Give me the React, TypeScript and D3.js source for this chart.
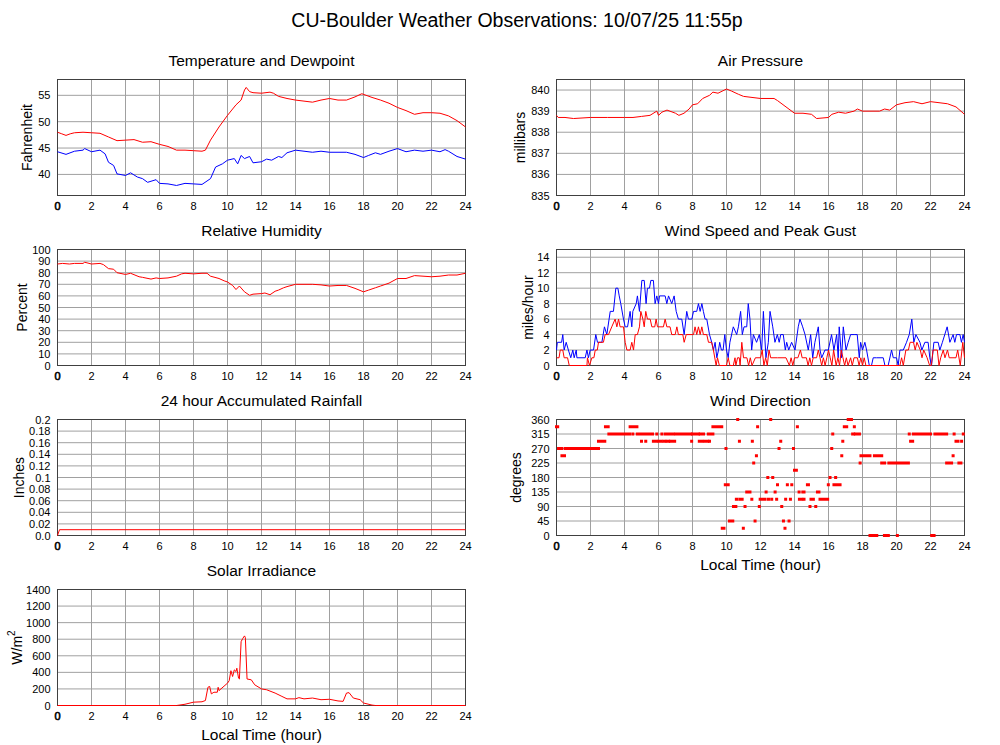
import React from "react";
import * as d3 from "d3";

type Pt = [number, number];
type Run = [number, number, number];

const HOUR_TICKS = [0, 2, 4, 6, 8, 10, 12, 14, 16, 18, 20, 22, 24];

const TEMP_TICKS = [40, 45, 50, 55];
const PRESSURE_TICKS = [835, 836, 837, 838, 839, 840];
const HUMIDITY_TICKS = [0, 10, 20, 30, 40, 50, 60, 70, 80, 90, 100];
const WIND_TICKS = [0, 2, 4, 6, 8, 10, 12, 14];
const RAIN_TICKS = [0, 0.02, 0.04, 0.06, 0.08, 0.1, 0.12, 0.14, 0.16, 0.18, 0.2];
const RAIN_LABELS = ["0.0", "0.02", "0.04", "0.06", "0.08", "0.1", "0.12", "0.14", "0.16", "0.18", "0.2"];
const DIR_TICKS = [0, 45, 90, 135, 180, 225, 270, 315, 360];
const SOLAR_TICKS = [0, 200, 400, 600, 800, 1000, 1200, 1400];

const temperature: Pt[] = [
  [0, 48.0], [0.25, 47.7], [0.5, 47.4], [0.75, 47.7], [1, 47.9], [1.5, 48.0], [2, 47.9], [2.5, 47.8],
  [3, 47.1], [3.5, 46.4], [4, 46.5], [4.5, 46.6], [5, 46.1], [5.5, 46.2], [6, 45.7], [6.5, 45.3],
  [7, 44.6], [7.5, 44.6], [8, 44.5], [8.5, 44.4], [8.7, 44.6], [9, 46.5], [9.5, 49.0], [10, 51.2],
  [10.5, 53.2], [10.8, 54.1], [11, 56.0], [11.1, 56.5], [11.3, 55.7], [11.5, 55.5], [12, 55.4],
  [12.5, 55.6], [12.7, 55.4], [13, 54.8], [13.5, 54.4], [14, 54.1], [14.5, 53.9], [15, 53.7],
  [15.5, 54.1], [16, 54.4], [16.5, 54.1], [17, 54.1], [17.5, 54.7], [17.9, 55.3], [18.5, 54.6],
  [19, 54.1], [19.5, 53.5], [20, 52.7], [20.5, 52.1], [21, 51.4], [21.5, 51.7], [22, 51.7],
  [22.5, 51.6], [23, 51.1], [23.5, 50.2], [24, 49.0],
];

const dewpoint: Pt[] = [
  [0, 44.3], [0.5, 43.8], [1, 44.4], [1.5, 44.6], [1.6, 44.9], [2, 44.3], [2.5, 44.6], [2.8, 43.9],
  [3, 42.3], [3.3, 41.7], [3.5, 40.1], [4, 39.8], [4.3, 40.3], [4.7, 39.5], [5, 39.2], [5.3, 38.5],
  [5.8, 39.0], [6, 38.3], [6.5, 38.2], [7, 37.9], [7.5, 38.3], [8, 38.2], [8.5, 38.1], [9, 39.2],
  [9.3, 41.4], [9.7, 42.0], [10, 42.7], [10.4, 43.0], [10.6, 42.0], [10.8, 43.6], [11, 43.0],
  [11.3, 43.4], [11.5, 42.2], [12, 42.4], [12.3, 42.9], [12.6, 42.7], [13, 43.4], [13.2, 43.2],
  [13.5, 44.1], [14, 44.6], [14.5, 44.4], [15, 44.2], [15.5, 44.4], [16, 44.2], [16.5, 44.2],
  [17, 44.2], [17.5, 43.8], [18, 43.2], [18.3, 43.6], [18.7, 44.1], [19, 43.8], [19.5, 44.4],
  [20, 44.9], [20.5, 44.3], [21, 44.6], [21.5, 44.4], [22, 44.6], [22.5, 44.3], [22.8, 44.7],
  [23, 44.4], [23.5, 43.4], [24, 42.9],
];

const pressure: Pt[] = [
  [0, 838.8], [0.1, 838.7], [0.5, 838.7], [1, 838.65], [2, 838.7], [3, 838.7], [4, 838.7],
  [4.5, 838.7], [5, 838.75], [5.5, 838.8], [5.9, 839.0], [6, 838.8], [6.2, 838.95], [6.5, 839.05],
  [7, 838.9], [7.2, 838.8], [7.5, 838.9], [7.8, 839.1], [8, 839.3], [8.3, 839.35], [8.6, 839.6],
  [9, 839.75], [9.2, 839.9], [9.5, 839.85], [10, 840.05], [10.3, 839.95], [10.7, 839.8],
  [11, 839.7], [11.5, 839.65], [12, 839.6], [12.8, 839.6], [13, 839.5], [13.5, 839.2],
  [14, 838.9], [14.5, 838.9], [15, 838.85], [15.3, 838.65], [16, 838.7], [16.2, 838.85],
  [16.6, 838.95], [17, 838.9], [17.5, 839.0], [17.7, 839.1], [18, 839.0], [19, 839.0],
  [19.3, 839.1], [19.6, 839.05], [20, 839.3], [20.5, 839.4], [21, 839.45], [21.5, 839.35],
  [22, 839.45], [22.5, 839.4], [23, 839.35], [23.5, 839.2], [24, 838.85],
];

const humidity: Pt[] = [
  [0, 87.5], [0.3, 88], [0.7, 87.5], [1, 88], [1.5, 88], [1.6, 89], [2, 87.5], [2.5, 88],
  [2.7, 87], [3, 83.5], [3.3, 83], [3.5, 80], [4, 78.5], [4.3, 79.5], [4.8, 76.5], [5, 76],
  [5.5, 74.5], [5.8, 75.5], [6, 75], [6.5, 75.5], [7, 77], [7.3, 79], [7.5, 79.5], [8, 79],
  [8.5, 79.5], [8.8, 79.5], [9, 77], [9.5, 75], [9.8, 73], [10, 72], [10.3, 69], [10.5, 65.5],
  [10.7, 68.5], [11, 63.5], [11.3, 60.5], [11.5, 61.5], [12, 62], [12.2, 62.5], [12.5, 61],
  [12.8, 64], [13, 65], [13.3, 67], [13.5, 68], [14, 70], [14.5, 70], [15, 70], [15.5, 69.5],
  [16, 68.5], [16.5, 69], [17, 69], [17.5, 66.5], [18, 63.5], [18.3, 65], [18.7, 67], [19, 68.5],
  [19.5, 71], [20, 75], [20.5, 75], [21, 77.5], [21.5, 77], [22, 76.5], [22.5, 77], [23, 78],
  [23.5, 78], [24, 79.5],
];

const rainfall: Pt[] = [[0, 0], [0.12, 0.01], [24, 0.01]];

const windSpeed: Pt[] = [
  [0, 1], [0.15, 1], [0.22, 2], [0.37, 2], [0.45, 1], [0.65, 1], [0.75, 0], [1.79, 0], [1.82, 1],
  [1.94, 0], [2.08, 1], [2.2, 1], [2.28, 2], [2.4, 2], [2.47, 3], [2.76, 3], [2.86, 4], [3.06, 4],
  [3.25, 5], [3.45, 6], [3.55, 5], [3.65, 6], [3.74, 5], [3.94, 5], [4.04, 3], [4.14, 2], [4.33, 2],
  [4.43, 3], [4.53, 2], [4.63, 4], [4.76, 4], [4.88, 5], [4.96, 7], [5.08, 6], [5.16, 5], [5.25, 7],
  [5.35, 6], [5.51, 6], [5.61, 5], [5.78, 5], [5.86, 6], [5.94, 5], [6.29, 5], [6.39, 6], [6.49, 5],
  [6.68, 5], [6.78, 4], [6.98, 4], [7.08, 5], [7.17, 4], [7.43, 4], [7.51, 3], [7.63, 4], [8.06, 4],
  [8.15, 5], [8.25, 4], [8.35, 5], [8.45, 4], [8.55, 5], [8.64, 4], [8.84, 4], [8.94, 3], [9.13, 3],
  [9.23, 2], [9.39, 0], [9.47, 1], [9.58, 0], [10.0, 0], [10.1, 1], [10.2, 0], [10.4, 0], [10.5, 1],
  [10.55, 0], [10.65, 1], [10.75, 1], [10.8, 0], [10.9, 3], [11.0, 1], [11.2, 1], [11.3, 0],
  [11.4, 1], [11.5, 0], [11.7, 1], [12.0, 1], [12.1, 2], [12.2, 0], [12.3, 1], [12.4, 0], [12.5, 2],
  [12.6, 1], [13.0, 1], [13.5, 1], [13.7, 0], [13.8, 1], [13.9, 0], [14.0, 1], [14.2, 1],
  [14.35, 2], [14.45, 1], [14.7, 1], [14.8, 0], [14.9, 1], [15.0, 0], [15.1, 1], [15.3, 1],
  [15.4, 2], [15.5, 1], [15.6, 0], [15.7, 1], [15.8, 0], [15.9, 1], [16.0, 2], [16.1, 1], [16.2, 0],
  [16.3, 2], [16.45, 0], [16.55, 1], [16.65, 0], [16.75, 2], [16.85, 1], [16.95, 0], [17.05, 1],
  [17.15, 0], [17.3, 1], [17.4, 0], [17.5, 1], [17.7, 1], [17.8, 0], [17.9, 1], [18.0, 0],
  [18.1, 1], [18.2, 0], [20.2, 0], [20.3, 1], [20.4, 0], [20.55, 2], [20.7, 2], [20.8, 3],
  [21.0, 3], [21.1, 2], [21.2, 3], [21.4, 2], [21.5, 1], [21.6, 2], [21.8, 1], [21.95, 0],
  [22.05, 0], [22.15, 2], [22.4, 2], [22.5, 0], [22.6, 1], [22.75, 2], [22.85, 1], [23.0, 2],
  [23.1, 1], [23.5, 1], [23.6, 2], [23.75, 0], [23.9, 3], [24, 1],
];

const windGust: Pt[] = [
  [0, 2], [0.05, 3], [0.3, 3], [0.37, 4], [0.45, 2], [0.57, 3], [0.7, 2], [0.84, 1], [0.96, 2],
  [1.04, 1], [1.16, 2], [1.2, 1], [1.69, 1], [1.79, 2], [1.88, 1], [1.98, 2], [2.18, 2], [2.31, 4],
  [2.41, 3], [2.67, 3], [2.82, 5], [2.96, 4], [3.16, 7], [3.35, 7], [3.49, 10], [3.61, 10],
  [3.69, 9], [3.78, 8], [3.94, 6], [4.04, 5], [4.18, 5], [4.33, 7], [4.43, 5], [4.49, 7], [4.69, 8],
  [4.76, 9], [4.88, 7], [5.02, 11], [5.16, 11], [5.27, 8], [5.35, 10], [5.47, 10], [5.55, 11],
  [5.7, 11], [5.8, 8], [5.9, 9], [6.0, 8], [6.06, 9], [6.39, 9], [6.49, 8], [6.59, 9], [6.78, 8],
  [6.92, 9], [7.04, 7], [7.17, 6], [7.37, 6], [7.51, 4], [7.66, 7], [7.76, 6], [7.96, 6], [8.06, 7],
  [8.25, 7], [8.35, 8], [8.45, 7], [8.55, 8], [8.64, 7], [8.74, 6], [8.84, 6], [9.0, 4], [9.13, 3],
  [9.23, 2], [9.33, 3], [9.43, 1], [9.53, 2], [9.6, 3], [9.7, 2], [9.8, 2], [9.9, 4], [10.0, 2],
  [10.1, 1], [10.2, 3], [10.4, 5], [10.6, 4], [10.7, 5], [10.83, 7], [10.93, 4], [11.03, 5],
  [11.19, 5], [11.28, 8], [11.38, 6], [11.48, 2], [11.58, 4], [11.77, 3], [11.93, 4], [12.07, 2],
  [12.17, 7], [12.32, 1], [12.46, 3], [12.56, 7], [12.72, 5], [12.85, 3], [12.99, 4], [13.1, 3],
  [13.19, 4], [13.34, 4], [13.46, 2], [13.54, 3], [13.66, 2], [13.83, 3], [14.03, 2], [14.22, 5],
  [14.32, 6], [14.48, 5], [14.62, 4], [14.81, 2], [14.95, 4], [15.07, 1], [15.2, 3], [15.4, 5],
  [15.5, 2], [15.6, 1], [15.79, 2], [15.99, 2], [16.18, 4], [16.32, 2], [16.48, 4], [16.57, 1],
  [16.63, 5], [16.77, 1], [16.87, 5], [17.03, 2], [17.16, 3], [17.3, 4], [17.55, 4], [17.69, 4],
  [17.81, 1], [17.89, 3], [18.0, 2], [18.14, 3], [18.24, 2], [18.4, 0], [18.53, 0], [18.63, 1],
  [18.83, 1], [19.22, 1], [19.32, 0], [19.51, 0], [19.71, 2], [19.81, 1], [20.0, 1], [20.1, 0],
  [20.2, 2], [20.4, 2], [20.59, 3], [20.75, 4], [20.9, 6], [21.02, 3], [21.14, 4], [21.38, 3],
  [21.49, 2], [21.67, 3], [21.86, 3], [21.96, 1], [22.06, 0], [22.2, 3], [22.45, 3], [22.55, 2],
  [22.7, 3], [22.98, 5], [23.14, 3], [23.33, 4], [23.43, 3], [23.53, 4], [23.73, 4], [23.82, 3],
  [23.92, 4], [24, 3],
];

// runs of wind direction observations: [start hour, end hour, degrees]
const windDirection: Run[] = [
  [0.0, 0.07, 337.5], [0.12, 0.31, 270], [0.32, 0.47, 247.5], [0.51, 2.47, 270], [2.47, 2.84, 292.5],
  [2.88, 3.04, 337.5], [3.08, 4.3, 315], [4.33, 4.73, 337.5], [4.49, 4.49, 315], [4.75, 5.65, 315],
  [5.0, 5.0, 292.5], [5.25, 5.25, 292.5], [5.9, 5.9, 315], [6.2, 6.2, 315], [6.4, 6.85, 315],
  [5.7, 5.85, 292.5], [6.0, 6.15, 292.5], [6.3, 6.38, 292.5], [6.5, 6.6, 292.5], [6.7, 6.95, 292.5],
  [7.0, 7.9, 315], [7.95, 7.95, 292.5], [8.0, 8.35, 315], [8.45, 8.65, 315], [8.4, 8.55, 292.5],
  [8.7, 8.9, 292.5], [9.0, 9.0, 292.5], [8.93, 9.2, 315], [9.2, 9.72, 337.5], [9.75, 9.85, 22.5],
  [9.97, 9.97, 270], [9.93, 10.1, 157.5], [10.17, 10.37, 45], [10.41, 10.55, 90], [10.58, 10.62, 112.5],
  [10.66, 10.66, 360], [10.76, 10.76, 292.5], [10.8, 10.92, 112.5], [10.99, 10.99, 22.5],
  [11.09, 11.09, 90], [11.19, 11.38, 135], [11.49, 11.49, 112.5], [11.52, 11.52, 292.5],
  [11.6, 11.6, 225], [11.68, 11.68, 45], [11.76, 11.76, 247.5], [11.83, 11.83, 337.5],
  [11.93, 11.93, 90], [11.98, 12.27, 112.5], [12.33, 12.33, 135], [12.43, 12.43, 180],
  [12.47, 12.47, 112.5], [12.6, 12.6, 360], [12.66, 12.66, 112.5], [12.72, 12.72, 180],
  [12.86, 12.86, 135], [12.95, 12.95, 112.5], [13.0, 13.0, 157.5], [13.09, 13.09, 270],
  [13.19, 13.19, 292.5], [13.25, 13.25, 90], [13.35, 13.35, 45], [13.44, 13.44, 22.5],
  [13.48, 13.48, 112.5], [13.58, 13.58, 157.5], [13.68, 13.68, 45], [13.76, 13.76, 112.5],
  [13.84, 13.84, 157.5], [13.94, 13.94, 270], [14.0, 14.11, 202.5], [14.17, 14.17, 337.5],
  [14.27, 14.27, 135], [14.29, 14.43, 112.5], [14.49, 14.56, 135], [14.56, 14.56, 112.5],
  [14.76, 14.82, 157.5], [14.91, 14.91, 90], [14.97, 15.11, 112.5], [15.25, 15.25, 90],
  [15.35, 15.44, 135], [15.5, 15.95, 112.5], [15.99, 15.99, 157.5], [16.09, 16.09, 180],
  [16.19, 16.19, 270], [16.25, 16.25, 315], [16.32, 16.68, 157.5], [16.42, 16.42, 180],
  [16.78, 16.78, 247.5], [16.84, 16.84, 292.5], [16.93, 17.07, 337.5], [17.16, 17.35, 360],
  [17.42, 17.48, 315], [17.52, 17.52, 337.5], [17.58, 17.82, 315], [17.86, 17.86, 225],
  [17.91, 18.44, 247.5], [18.44, 18.84, 0], [18.7, 19.13, 247.5], [19.13, 19.3, 225],
  [19.29, 19.52, 0], [19.55, 20.7, 225], [20.05, 20.05, 0], [20.75, 20.75, 315], [20.83, 20.95, 292.5],
  [20.99, 22.0, 315], [22.07, 22.21, 0], [22.26, 22.95, 315], [22.95, 23.24, 225], [23.33, 23.33, 247.5],
  [23.39, 23.39, 315], [23.5, 23.62, 292.5], [23.67, 23.79, 225], [23.83, 23.83, 292.5], [23.93, 23.93, 315],
];

const solar: Pt[] = [
  [0, 0], [7.0, 0], [7.5, 15], [8, 40], [8.5, 45], [8.7, 60], [8.85, 220], [8.95, 230], [9.05, 140],
  [9.2, 160], [9.4, 160], [9.45, 220], [9.5, 180], [10, 270], [10.1, 300], [10.2, 420], [10.3, 350],
  [10.4, 430], [10.5, 410], [10.55, 450], [10.65, 330], [10.7, 320], [10.8, 770], [10.9, 810],
  [11.0, 840], [11.05, 820], [11.15, 320], [11.4, 310], [11.6, 250], [12, 200], [12.3, 190],
  [12.8, 150], [13.2, 110], [13.5, 80], [14, 80], [14.2, 95], [14.5, 80], [15, 90], [15.5, 70],
  [16, 75], [16.5, 55], [16.8, 50], [17, 150], [17.15, 155], [17.4, 90], [17.8, 70], [18, 30],
  [18.5, 5], [18.7, 0], [24, 0],
];

const RED = "#ff0000";
const BLUE = "#0000ff";
const GRID = "#a0a0a0";
const FRAME = "#404040";
const FONT = "'Liberation Sans', Arial, Helvetica, sans-serif";
const TICK_FS = 11;

type PanelProps = {
  x0: number; x1: number; top: number; bottom: number;
  title: string; yDomain: [number, number]; yTicks: number[]; yLabels?: string[];
  yTitle: React.ReactNode; yTitleX: number; xTitle?: string;
  lines?: { data: Pt[]; color: string }[]; runs?: Run[];
};

function Panel(p: PanelProps) {
  const x = d3.scaleLinear().domain([0, 24]).range([p.x0, p.x1]);
  const y = d3.scaleLinear().domain(p.yDomain).range([p.bottom, p.top]);
  const line = d3.line<Pt>().x((d) => x(d[0])).y((d) => y(d[1]));
  const midY = (p.top + p.bottom) / 2;
  return (
    <g>
      <text x={(p.x0 + p.x1) / 2} y={p.top - 13.5} textAnchor="middle" fontSize={15.5}>{p.title}</text>
      {HOUR_TICKS.map((h) => (
        <line key={"v" + h} x1={x(h)} x2={x(h)} y1={p.top} y2={p.bottom} stroke={GRID} strokeWidth={1} />
      ))}
      {p.yTicks.map((v) => (
        <line key={"h" + v} x1={p.x0} x2={p.x1} y1={y(v)} y2={y(v)} stroke={GRID} strokeWidth={1} />
      ))}
      <rect x={p.x0} y={p.top} width={p.x1 - p.x0} height={p.bottom - p.top} fill="none" stroke={FRAME} strokeWidth={1} />
      {p.yTicks.map((v, i) => (
        <text key={"yl" + v} x={p.x0 - 7} y={y(v) + 4} textAnchor="end" fontSize={TICK_FS}>
          {p.yLabels ? p.yLabels[i] : String(v)}
        </text>
      ))}
      {HOUR_TICKS.map((h) => (
        <text key={"xl" + h} x={x(h)} y={p.bottom + 14.5} textAnchor="middle" fontSize={TICK_FS}
          stroke={h === 0 ? "#000" : "none"} strokeWidth={h === 0 ? 0.6 : 0}>
          {h}
        </text>
      ))}
      <text transform={`translate(${p.yTitleX},${midY}) rotate(-90)`} textAnchor="middle" fontSize={14}>
        {p.yTitle}
      </text>
      {(p.lines || []).map((l, i) => (
        <path key={"l" + i} d={line(l.data) || ""} fill="none" stroke={l.color} strokeWidth={1} />
      ))}
      {(p.runs || []).map((r, i) => (
        <rect key={"r" + i} x={x(r[0]) - 1.5} y={y(r[2]) - 1.5} width={x(r[1]) - x(r[0]) + 3} height={3} fill={RED} />
      ))}
      {p.xTitle && (
        <text x={(p.x0 + p.x1) / 2} y={p.bottom + 34} textAnchor="middle" fontSize={15.5}>{p.xTitle}</text>
      )}
    </g>
  );
}

const L = { x0: 57.5, x1: 465.5 };
const R = { x0: 556.5, x1: 964.5 };
const ROWS = [79.5, 249.5, 419.5, 589.5];
const H = 116;

export default function App() {
  return (
    <svg width={1000} height={745} style={{ position: "absolute", left: 0, top: 0, background: "#fff" }}
      fontFamily={FONT} fill="#000">
      <rect x={0} y={0} width={1000} height={745} fill="#fff" />
      <text x={517} y={27} textAnchor="middle" fontSize={19.5}>CU-Boulder Weather Observations: 10/07/25 11:55p</text>
      <Panel {...L} top={ROWS[0]} bottom={ROWS[0] + H} title="Temperature and Dewpoint" yDomain={[36, 58]}
        yTicks={TEMP_TICKS} yTitle="Fahrenheit" yTitleX={31.5}
        lines={[{ data: temperature, color: RED }, { data: dewpoint, color: BLUE }]} />
      <Panel {...R} top={ROWS[0]} bottom={ROWS[0] + H} title="Air Pressure" yDomain={[835, 840.5]}
        yTicks={PRESSURE_TICKS} yTitle="millibars" yTitleX={525}
        lines={[{ data: pressure, color: RED }]} />
      <Panel {...L} top={ROWS[1]} bottom={ROWS[1] + H} title="Relative Humidity" yDomain={[0, 100]}
        yTicks={HUMIDITY_TICKS} yTitle="Percent" yTitleX={27}
        lines={[{ data: humidity, color: RED }]} />
      <Panel {...R} top={ROWS[1]} bottom={ROWS[1] + H} title="Wind Speed and Peak Gust" yDomain={[0, 15]}
        yTicks={WIND_TICKS} yTitle="miles/hour" yTitleX={533}
        lines={[{ data: windGust, color: BLUE }, { data: windSpeed, color: RED }]} />
      <Panel {...L} top={ROWS[2]} bottom={ROWS[2] + H} title="24 hour Accumulated Rainfall" yDomain={[0, 0.2]}
        yTicks={RAIN_TICKS} yLabels={RAIN_LABELS} yTitle="Inches" yTitleX={23.5}
        lines={[{ data: rainfall, color: RED }]} />
      <Panel {...R} top={ROWS[2]} bottom={ROWS[2] + H} title="Wind Direction" yDomain={[0, 360]}
        yTicks={DIR_TICKS} yTitle="degrees" yTitleX={521} xTitle="Local Time (hour)"
        runs={windDirection} />
      <Panel {...L} top={ROWS[3]} bottom={ROWS[3] + H} title="Solar Irradiance" yDomain={[0, 1400]}
        yTicks={SOLAR_TICKS} yTitleX={21.5} xTitle="Local Time (hour)"
        yTitle={<><tspan>W/m</tspan><tspan fontSize={10} dy={-7}>2</tspan></>}
        lines={[{ data: solar, color: RED }]} />
    </svg>
  );
}
